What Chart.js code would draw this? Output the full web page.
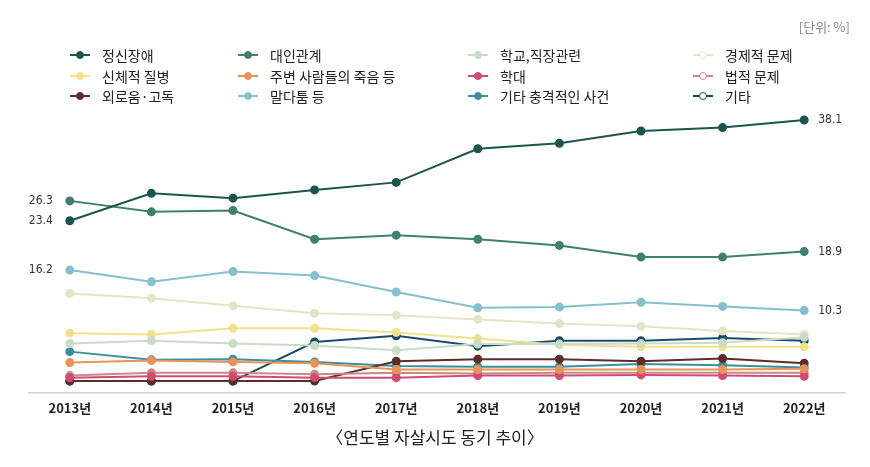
<!DOCTYPE html>
<html>
<head>
<meta charset="utf-8">
<script src="https://cdn.jsdelivr.net/npm/chart.js@4"></script>
<style>
  html, body { margin: 0; padding: 0; background: #fff; }
  body { width: 870px; height: 467px; position: relative; overflow: hidden;
         font-family: 'Noto Sans CJK KR', 'Noto Sans', sans-serif; }
  #wrap { position: absolute; left: 0; top: 0; width: 870px; height: 467px; }
  #unit { position: absolute; right: 20px; top: 17px; font-size: 13px; color: #8a8a8a; }
  #legend { position: absolute; left: 70px; top: 45px; display: grid;
            grid-template-columns: 168px 230px 225px 150px; grid-auto-rows: 20.5px; }
  .item { display: flex; align-items: center; font-size: 14px; color: #222; white-space: nowrap; }
  .mark { position: relative; width: 20px; height: 2px; margin-right: 12px; }
  .mark i { position: absolute; left: 6px; top: -3px; width: 6px; height: 6px; border-radius: 50%;
            border: 1px solid; box-sizing: content-box; }
  #caption { position: absolute; left: 0; width: 870px; top: 424px; text-align: center;
             font-size: 17px; color: #222; }
</style>
</head>
<body>
<div id="wrap"><canvas id="chart" width="870" height="467"></canvas></div>
<div id="unit">[단위: %]</div>
<div id="legend"></div>
<div id="caption">〈연도별 자살시도 동기 추이〉</div>
<script>
// Data (%)
const years = ['2013년', '2014년', '2015년', '2016년', '2017년', '2018년', '2019년', '2020년', '2021년', '2022년'];

const mental      = [23.4, 27.4, 26.7, 27.9, 29.0, 33.9, 34.7, 36.5, 37.0, 38.1];
const relation    = [26.3, 24.7, 24.9, 20.7, 21.3, 20.7, 19.8, 18.1, 18.1, 18.9];
const school      = [5.5, 5.9, 5.5, 5.2, 4.5, 5.4, 5.4, 5.5, 5.6, 6.4];
const economic    = [12.8, 12.1, 11.0, 9.9, 9.6, 9.0, 8.4, 8.0, 7.3, 6.8];
const physical    = [7.0, 6.8, 7.7, 7.7, 7.1, 6.2, 5.3, 5.0, 5.0, 5.0];
const bereavement = [2.7, 3.0, 2.8, 2.6, 1.7, 1.7, 1.7, 1.7, 1.7, 1.8];
const abuse       = [0.5, 0.7, 0.7, 0.5, 0.5, 0.8, 0.8, 0.9, 0.8, 0.7];
const legal       = [0.8, 1.2, 1.2, 1.0, 1.2, 1.1, 1.2, 1.2, 1.2, 1.2];
const loneliness  = [0, 0, 0, 0, 2.9, 3.2, 3.2, 2.9, 3.3, 2.6];
const quarrel     = [16.2, 14.5, 16.0, 15.4, 13.0, 10.7, 10.8, 11.5, 10.9, 10.3];
const shock       = [4.3, 3.1, 3.2, 2.8, 2.2, 2.1, 2.1, 2.5, 2.3, 2.0];
const other       = [0, 0, 0, 5.7, 6.6, 5.1, 5.9, 5.9, 6.3, 5.9];

// Series in legend order (row by row)
const series = [
  { name: '정신장애', data: mental, color: '#1c554e' },
  { name: '대인관계', data: relation, color: '#3f8070' },
  { name: '학교,직장관련', data: school, color: '#c8dcc8' },
  { name: '경제적 문제', data: economic, color: '#e4e5c6', hollow: true },
  { name: '신체적 질병', data: physical, color: '#f1e18c' },
  { name: '주변 사람들의 죽음 등', data: bereavement, color: '#e8935a' },
  { name: '학대', data: abuse, color: '#d24c72' },
  { name: '법적 문제', data: legal, color: '#c98a8c', hollow: true },
  { name: '외로움·고독', data: loneliness, color: '#5b2e2a' },
  { name: '말다툼 등', data: quarrel, color: '#85c0cb' },
  { name: '기타 충격적인 사건', data: shock, color: '#3b8e9c' },
  { name: '기타', data: other, color: '#1a4b6b', hollow: true }
];

// Value labels at the ends
const leftLabels = ['대인관계', '정신장애', '말다툼 등'];
const rightLabels = ['정신장애', '대인관계', '말다툼 등'];

// HTML legend
const legendEl = document.getElementById('legend');
series.forEach(s => {
  const item = document.createElement('div');
  item.className = 'item';
  item.innerHTML = '<span class="mark" style="background:' + s.color + '"><i style="border-color:' + s.color +
    ';background:' + (s.hollow ? '#fff' : s.color) + '"></i></span>' + s.name;
  legendEl.appendChild(item);
});

const endLabels = {
  id: 'endLabels',
  afterDatasetsDraw(chart) {
    const ctx = chart.ctx;
    ctx.save();
    ctx.font = '12px "Liberation Sans Narrow", "DejaVu Sans Condensed", sans-serif';
    ctx.fillStyle = '#333';
    ctx.textBaseline = 'middle';
    const draw = (names, idx, align, dx) => {
      names.forEach(n => {
        const di = series.findIndex(s => s.name === n);
        const pt = chart.getDatasetMeta(di).data[idx];
        ctx.textAlign = align;
        ctx.fillText(series[di].data[idx].toFixed(1), pt.x + dx, pt.y);
      });
    };
    draw(leftLabels, 0, 'right', -17);
    draw(rightLabels, years.length - 1, 'left', 14);
    ctx.restore();
  }
};

new Chart(document.getElementById('chart'), {
  type: 'line',
  data: {
    labels: years,
    datasets: series.map(s => ({
      label: s.name,
      data: s.data,
      borderColor: s.color,
      backgroundColor: s.color,
      pointBackgroundColor: s.color,
      pointBorderColor: s.color,
      borderWidth: 2,
      pointRadius: 3.5,
      tension: 0
    }))
  },
  options: {
    responsive: false,
    animation: false,
    layout: { padding: { top: 107, left: 29, right: 25, bottom: 43 } },
    plugins: {
      legend: { display: false },
      tooltip: { enabled: false }
    },
    scales: {
      x: {
        offset: true,
        grid: { display: false, drawTicks: false },
        border: { display: true, color: '#d0d0d0', width: 1.5 },
        ticks: {
          padding: 8,
          color: '#222',
          font: { family: "'Noto Sans CJK KR', sans-serif", size: 13, weight: 'bold' }
        }
      },
      y: {
        display: false,
        min: -1.65,
        max: 40
      }
    }
  },
  plugins: [endLabels]
});
</script>
</body>
</html>
